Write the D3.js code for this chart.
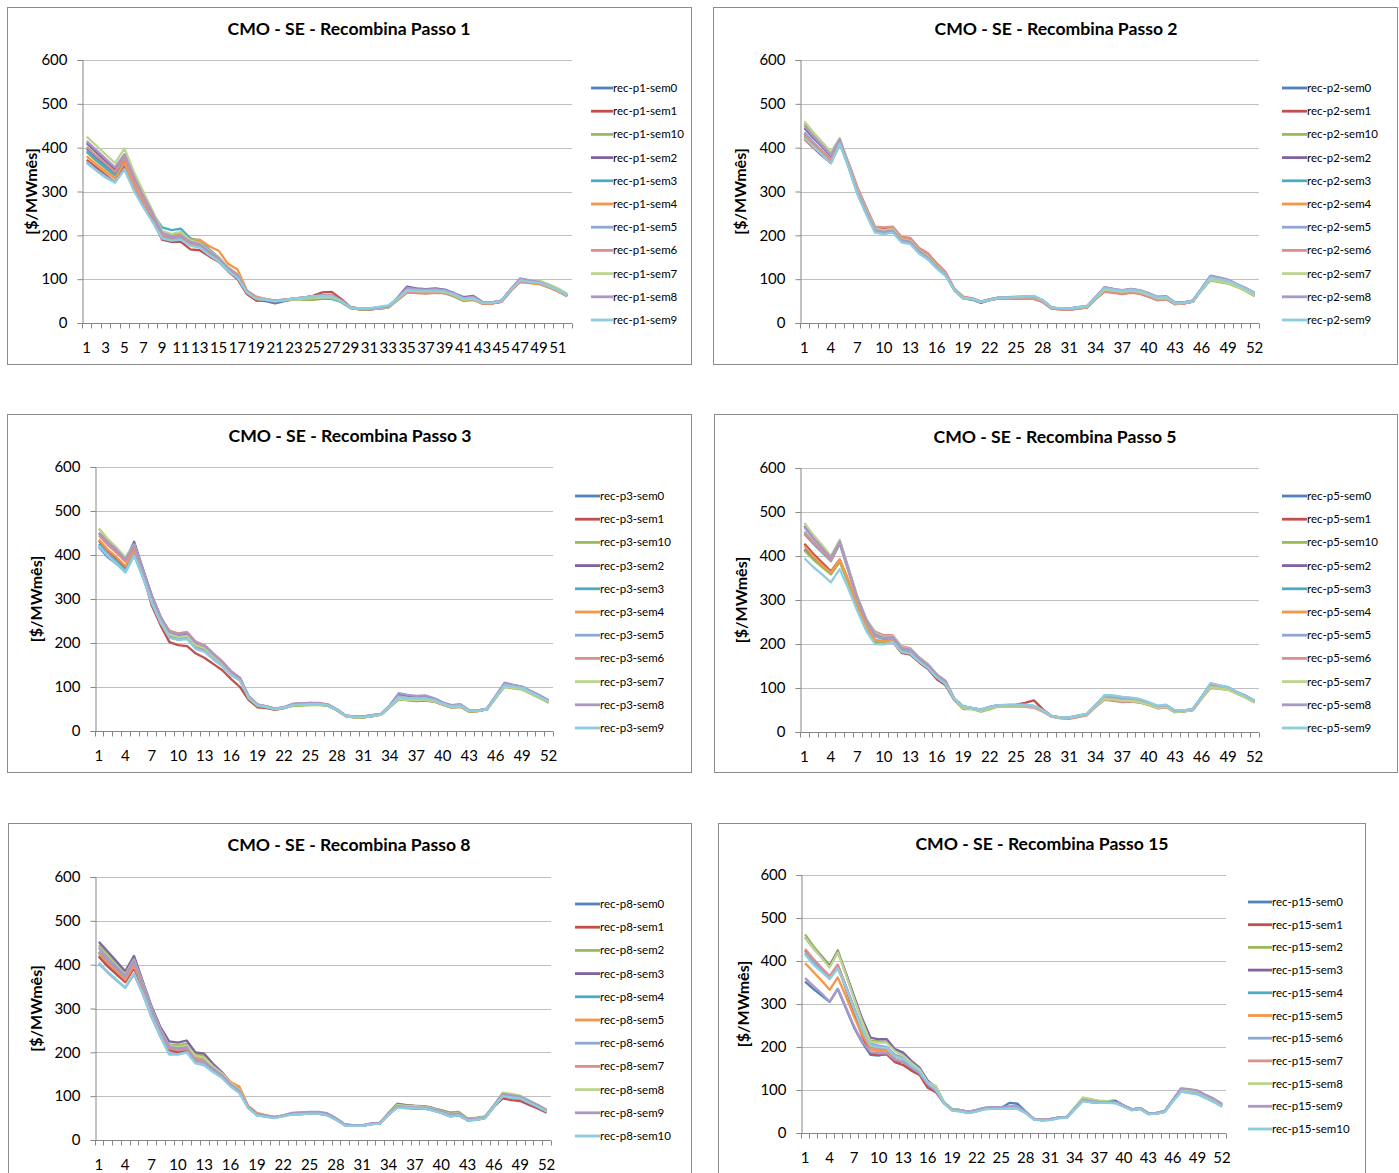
<!DOCTYPE html>
<html lang="pt">
<head>
<meta charset="utf-8">
<title>CMO - SE - Recombina</title>
<script src="https://cdn.jsdelivr.net/npm/d3@7"></script>
<style>
  body { margin: 0; background: #fff; }
  svg { font-family: Lato, "Open Sans", sans-serif; }
</style>
</head>
<body>
<script type="text/javascript">

// semanas 1..52 (eixo x)
var weeks = d3.range(1, 53);
var yTicks = [0, 100, 200, 300, 400, 500, 600];
var yLabel = "[$/MWmês]";

var titles = [
  "CMO - SE - Recombina Passo 1",
  "CMO - SE - Recombina Passo 2",
  "CMO - SE - Recombina Passo 3",
  "CMO - SE - Recombina Passo 5",
  "CMO - SE - Recombina Passo 8",
  "CMO - SE - Recombina Passo 15"
];

// series names, in legend order
var p1Names = ["rec-p1-sem0","rec-p1-sem1","rec-p1-sem10","rec-p1-sem2","rec-p1-sem3","rec-p1-sem4","rec-p1-sem5","rec-p1-sem6","rec-p1-sem7","rec-p1-sem8","rec-p1-sem9"];
var p2Names = ["rec-p2-sem0","rec-p2-sem1","rec-p2-sem10","rec-p2-sem2","rec-p2-sem3","rec-p2-sem4","rec-p2-sem5","rec-p2-sem6","rec-p2-sem7","rec-p2-sem8","rec-p2-sem9"];
var p3Names = ["rec-p3-sem0","rec-p3-sem1","rec-p3-sem10","rec-p3-sem2","rec-p3-sem3","rec-p3-sem4","rec-p3-sem5","rec-p3-sem6","rec-p3-sem7","rec-p3-sem8","rec-p3-sem9"];
var p5Names = ["rec-p5-sem0","rec-p5-sem1","rec-p5-sem10","rec-p5-sem2","rec-p5-sem3","rec-p5-sem4","rec-p5-sem5","rec-p5-sem6","rec-p5-sem7","rec-p5-sem8","rec-p5-sem9"];
var p8Names = ["rec-p8-sem0","rec-p8-sem1","rec-p8-sem2","rec-p8-sem3","rec-p8-sem4","rec-p8-sem5","rec-p8-sem6","rec-p8-sem7","rec-p8-sem8","rec-p8-sem9","rec-p8-sem10"];
var p15Names = ["rec-p15-sem0","rec-p15-sem1","rec-p15-sem2","rec-p15-sem3","rec-p15-sem4","rec-p15-sem5","rec-p15-sem6","rec-p15-sem7","rec-p15-sem8","rec-p15-sem9","rec-p15-sem10"];

// CMO values, one row per series (same order as names), 52 weeks each
var p1Values = [
  [398,378,360,342,375,322,282,243,200,193,196,180,176,158,144,122,106,68,52,50,45,50,54,57,59,60,58,48,34,31,31,33,36,55,74,72,71,72,70,64,54,56,45,45,49,74,96,93,91,83,74,62],
  [372,355,338,322,358,308,268,235,190,185,185,168,166,152,140,118,100,66,51,51,49,52,55,58,62,70,71,55,36,31,31,33,35,53,70,69,68,70,68,62,52,54,44,45,48,73,94,92,90,82,73,61],
  [390,370,352,336,370,318,280,245,208,202,205,190,185,166,149,125,109,70,55,53,50,52,54,53,53,55,55,48,34,31,31,33,35,52,70,70,70,71,68,60,50,52,45,46,50,75,97,95,94,86,76,64],
  [410,390,370,350,382,330,288,248,203,196,199,182,178,160,146,123,108,72,56,54,51,53,56,58,61,63,62,51,36,33,33,35,37,58,83,79,77,79,76,68,59,62,48,47,51,77,100,96,93,84,74,62],
  [392,372,355,338,372,320,285,250,218,212,215,193,188,168,150,126,110,71,56,54,50,52,55,56,56,56,55,49,35,32,32,35,38,56,76,74,73,74,72,65,55,57,46,47,50,76,98,95,93,85,76,64],
  [380,362,345,330,365,315,278,243,205,200,203,190,190,175,165,135,122,74,60,55,51,53,56,58,60,62,61,51,36,33,33,34,37,55,72,70,70,71,70,63,53,55,44,45,48,73,94,91,89,81,72,61],
  [368,350,335,322,352,305,266,232,195,190,192,178,174,157,142,120,104,70,55,53,49,52,55,57,59,61,60,50,35,32,32,35,38,56,76,74,73,74,73,66,55,57,46,46,50,76,98,95,92,84,75,63],
  [402,382,364,345,376,325,283,245,200,195,197,182,178,160,146,124,108,69,55,53,50,52,55,57,60,64,64,52,35,32,32,34,36,54,70,68,67,69,68,62,53,55,44,45,49,74,95,93,91,83,74,62],
  [425,405,385,365,398,345,300,255,210,203,208,188,183,165,150,128,112,72,58,55,51,52,54,55,57,58,58,50,35,32,32,34,36,55,74,73,72,73,71,64,53,55,46,47,51,77,100,98,97,89,79,67],
  [415,395,375,355,385,335,290,250,205,198,200,185,180,163,148,125,110,73,57,54,51,53,56,58,60,63,62,51,36,33,33,35,37,57,80,77,76,77,75,67,57,60,47,47,51,77,102,97,94,85,75,63],
  [365,348,332,320,350,302,265,230,193,188,190,176,172,155,141,119,103,70,55,53,50,52,56,58,61,62,61,50,35,33,34,37,40,56,75,74,73,74,72,65,55,57,46,46,50,75,97,94,92,84,75,63]
];

var p2Values = [
  [432,410,390,370,412,358,298,252,210,207,210,188,184,162,148,128,110,74,56,53,46,52,56,57,57,57,57,49,34,32,31,34,36,56,76,73,70,73,70,63,55,56,44,45,49,76,101,97,93,84,75,64],
  [420,400,382,365,408,365,308,262,218,215,217,195,193,170,158,135,115,76,58,55,48,53,56,57,56,55,55,48,33,31,30,33,35,55,72,70,67,70,67,60,52,54,43,45,49,76,100,97,93,84,76,65],
  [455,430,410,388,420,362,302,256,214,210,213,190,186,164,150,128,110,74,56,54,48,54,58,59,59,59,59,51,35,33,32,35,37,57,74,72,70,72,70,63,55,56,45,46,49,75,97,93,90,82,73,61],
  [445,422,402,380,418,360,300,254,212,208,211,188,184,162,148,127,109,76,58,56,49,54,58,59,59,59,59,51,35,33,33,36,38,59,81,77,74,77,74,67,59,60,46,47,51,79,107,103,98,88,79,68],
  [425,405,386,366,410,356,296,250,208,205,208,186,182,160,146,126,109,75,57,55,48,53,57,58,59,60,61,52,35,33,32,35,37,58,79,76,73,76,73,66,58,59,45,46,50,78,104,100,96,87,78,67],
  [428,408,390,370,414,362,305,260,216,212,215,193,190,168,156,133,114,78,60,56,48,53,56,57,57,56,55,48,34,32,31,34,36,56,72,70,67,70,68,62,53,55,43,45,49,77,102,99,95,86,77,66],
  [435,413,393,373,413,358,297,251,209,206,209,187,183,161,147,127,109,75,57,55,48,53,57,58,59,59,60,51,35,33,33,36,38,58,80,77,74,77,74,67,59,60,46,47,51,78,106,102,97,88,79,68],
  [430,410,392,372,415,366,310,264,220,218,220,197,194,171,159,136,116,77,59,55,48,52,56,56,56,55,55,48,33,31,30,33,35,55,71,69,66,69,67,60,52,54,43,45,49,76,101,98,94,85,76,65],
  [460,435,413,390,422,363,303,257,215,211,214,191,187,165,151,129,111,75,57,55,48,54,58,59,59,59,59,51,35,33,32,35,37,57,76,74,71,74,71,64,56,57,45,46,50,76,99,95,91,83,74,63],
  [450,426,405,383,419,360,300,254,212,208,211,189,185,163,149,127,110,76,58,56,49,54,58,59,60,60,60,52,35,33,33,36,38,59,82,78,75,78,75,68,60,61,47,47,51,79,108,104,99,89,80,69],
  [422,402,384,364,409,355,294,248,206,203,206,184,180,158,145,124,107,75,57,55,48,53,57,58,59,60,62,52,35,34,33,36,38,58,79,76,73,76,73,66,58,59,45,46,50,77,104,100,96,87,78,67]
];

var p3Values = [
  [418,395,380,362,400,350,290,245,212,208,210,188,182,165,148,128,115,76,58,55,50,53,58,60,60,60,57,47,34,31,31,34,37,55,75,72,71,71,68,61,55,57,45,46,50,77,103,100,97,87,77,66],
  [432,410,392,372,412,355,285,240,202,195,193,176,166,152,138,118,100,70,54,52,48,52,58,59,60,62,58,47,34,31,31,34,37,55,72,70,68,69,67,60,53,55,44,45,49,76,102,99,96,86,76,65],
  [460,435,415,392,425,365,305,258,220,215,218,196,190,172,155,133,118,74,57,54,49,52,57,58,59,59,57,47,34,31,31,34,37,55,72,70,69,70,67,60,53,55,44,45,49,75,100,97,94,84,75,64],
  [450,428,410,388,430,368,308,260,222,218,220,198,192,172,157,135,120,78,60,56,51,54,61,62,63,62,59,49,35,33,33,36,39,58,82,79,77,77,73,64,58,60,47,47,51,79,108,104,100,90,80,69],
  [425,402,386,366,405,352,295,250,215,210,213,190,184,166,150,130,118,77,59,55,50,53,60,61,62,61,58,48,35,32,32,35,38,57,78,75,74,74,70,62,56,58,46,46,50,78,105,101,98,88,78,67],
  [435,412,395,375,410,358,298,252,218,213,215,193,187,168,152,132,118,76,58,55,50,53,59,60,61,61,58,48,34,32,32,35,38,56,74,72,71,72,69,61,55,57,45,46,50,77,103,100,97,87,77,66],
  [422,400,383,364,402,350,293,248,214,209,211,188,182,164,148,128,115,77,59,55,50,53,60,61,62,62,58,48,35,32,32,35,38,57,79,76,75,75,71,63,57,59,46,46,50,78,106,102,99,89,79,68],
  [445,423,405,385,420,364,305,258,228,222,225,203,195,176,158,136,121,78,60,56,50,54,61,63,64,64,60,49,35,32,32,35,38,57,76,74,73,73,70,62,56,58,46,46,50,78,105,102,99,89,79,68],
  [460,437,417,395,424,364,304,257,220,214,216,195,189,170,154,132,117,75,58,55,50,53,59,60,61,60,58,48,34,31,31,34,37,56,73,71,70,71,68,61,54,56,45,46,50,76,101,98,95,85,76,65],
  [450,430,412,390,422,366,306,259,225,220,223,200,193,174,156,134,119,78,60,56,51,54,62,63,64,63,60,49,35,33,33,36,39,59,86,82,80,81,75,65,59,61,47,47,51,79,110,105,101,91,81,70],
  [420,398,380,360,398,348,291,246,212,207,209,186,180,162,147,127,114,76,58,55,50,53,59,60,61,61,58,48,35,32,32,35,38,57,77,75,74,74,70,62,56,58,46,46,50,77,104,101,98,88,78,67]
];

var p5Values = [
  [415,395,378,360,388,340,285,238,205,205,208,182,178,160,145,124,110,74,58,54,50,56,61,60,60,60,58,48,36,32,32,36,40,60,80,78,75,74,71,65,57,59,48,48,51,79,108,104,100,89,80,69],
  [428,405,385,365,392,342,285,238,208,203,205,180,176,158,143,120,106,72,56,53,50,56,60,61,62,66,72,52,36,32,31,35,39,58,74,72,70,70,68,62,55,57,46,47,50,77,103,100,97,88,79,68],
  [412,392,375,358,386,338,282,236,206,204,207,184,180,162,147,125,110,72,52,52,46,52,58,59,59,60,58,48,35,32,32,36,40,58,75,73,70,70,67,61,54,56,45,47,50,76,100,98,96,87,78,67],
  [468,442,420,395,435,370,305,255,220,213,215,190,186,168,152,130,115,75,58,54,51,57,61,61,61,61,59,49,36,33,33,37,41,61,82,80,77,76,73,66,58,60,48,49,52,79,108,104,101,90,81,70],
  [450,428,408,388,428,365,302,252,218,211,213,188,184,166,150,128,113,74,57,54,50,56,61,61,60,60,58,48,36,32,32,36,40,60,80,79,76,75,72,65,57,59,47,48,51,79,107,103,100,90,81,70],
  [422,400,380,362,392,345,290,242,210,206,208,184,180,162,147,126,111,73,57,53,50,56,60,60,60,60,58,48,36,32,32,36,40,59,76,75,72,72,69,63,55,57,46,48,51,78,104,102,100,91,83,71],
  [455,432,412,390,430,366,303,253,219,212,214,189,185,167,151,129,114,74,57,54,50,56,60,60,61,61,59,49,36,32,32,36,40,60,81,80,77,76,73,66,58,60,48,48,51,79,109,105,101,90,81,70],
  [452,430,410,390,430,368,306,256,228,220,220,195,190,170,154,131,116,73,56,53,50,55,59,58,58,57,55,46,35,31,30,34,38,58,73,71,68,69,67,62,54,56,45,47,50,76,102,100,97,88,79,68],
  [475,448,425,400,437,372,308,258,225,216,218,193,188,169,153,131,116,73,55,52,48,54,59,59,59,59,57,47,35,32,32,36,40,59,75,74,71,71,68,62,55,57,46,47,50,77,102,99,96,87,78,67],
  [465,440,418,396,433,370,305,255,222,214,216,191,187,168,152,130,115,75,58,54,51,57,61,61,61,61,59,49,36,33,33,37,41,61,83,82,79,77,74,67,59,61,48,49,52,80,110,106,102,91,82,71],
  [395,375,358,340,370,325,275,230,200,199,205,182,178,160,145,124,109,75,58,55,51,57,61,62,62,62,60,50,36,33,33,37,41,61,84,83,80,78,75,68,60,62,49,49,52,80,111,106,102,91,82,71]
];

var p8Values = [
  [420,398,380,362,395,345,290,245,208,205,208,185,180,163,148,126,112,74,57,54,51,55,59,59,60,60,57,47,34,32,32,36,38,59,76,74,72,72,68,63,55,57,45,47,51,77,100,97,94,84,75,64],
  [418,396,378,360,392,342,288,243,205,200,203,182,178,162,147,125,110,76,58,54,51,55,59,59,60,60,57,47,34,32,32,36,38,58,75,73,72,72,68,62,54,56,45,46,50,76,95,91,89,80,72,62],
  [445,422,402,382,417,360,302,256,218,216,220,196,192,170,153,131,116,75,58,55,52,55,60,61,62,63,59,49,35,33,33,37,39,62,83,80,78,77,73,68,63,64,49,51,54,79,104,101,98,88,79,68],
  [452,430,408,385,420,362,305,258,225,222,227,200,197,174,155,132,117,75,58,55,52,55,61,62,62,62,59,49,35,33,33,37,39,61,82,79,78,77,73,67,61,62,48,50,53,79,104,101,98,88,79,68],
  [430,408,390,370,405,352,296,250,212,208,212,188,184,165,150,128,113,75,58,55,52,55,60,60,61,61,58,48,35,33,33,37,38,60,78,76,75,74,70,65,58,60,47,48,52,78,102,99,96,86,77,66],
  [425,404,385,365,398,348,294,248,210,206,209,186,182,166,152,132,122,78,62,57,53,56,60,60,61,61,58,48,35,33,33,37,38,60,77,75,74,73,69,64,57,59,46,48,52,78,103,100,97,87,78,67],
  [402,382,364,347,378,333,280,236,197,196,200,176,172,156,143,123,108,74,57,54,51,55,59,60,61,61,58,48,35,33,33,37,38,59,76,74,73,72,68,63,56,58,46,47,51,77,101,98,95,85,76,65],
  [428,406,387,368,402,350,295,249,209,205,208,184,180,163,149,127,112,76,59,55,52,55,60,61,63,63,60,49,35,33,33,37,38,60,77,75,74,73,69,64,57,59,46,48,52,78,106,103,100,89,80,69],
  [440,418,398,378,412,357,300,253,215,212,216,192,188,168,152,130,115,75,58,55,52,56,61,62,62,62,59,49,35,33,33,37,39,61,80,78,77,76,72,66,60,61,48,50,54,79,108,105,101,90,80,69],
  [438,415,395,375,410,355,298,252,213,209,212,180,178,163,148,127,112,76,59,56,52,56,62,63,64,64,61,50,36,34,34,38,39,60,77,75,74,74,70,65,58,60,47,48,52,78,105,102,99,89,79,68],
  [405,384,366,348,380,335,282,238,195,195,200,175,170,155,142,122,107,73,56,53,50,54,58,59,60,60,56,46,33,32,32,36,37,58,74,73,72,72,67,62,54,56,45,46,50,76,100,97,95,85,76,65]
];

var p15Values = [
  [352,335,320,305,335,290,245,210,182,180,185,168,165,150,138,112,97,70,53,51,47,51,56,57,58,70,68,50,32,30,31,35,36,56,76,72,72,74,75,64,54,57,45,46,50,75,96,94,91,82,73,62],
  [425,400,380,360,388,335,280,225,185,182,183,165,158,145,135,105,95,69,53,51,47,51,56,57,57,58,57,47,32,30,31,35,36,56,75,72,70,70,70,62,53,56,44,45,49,75,99,97,94,84,75,63],
  [462,435,412,390,425,370,315,260,215,213,212,192,182,165,150,120,108,70,55,53,49,53,58,59,59,60,60,48,33,31,32,36,37,59,82,78,74,74,72,64,55,58,46,47,51,77,102,100,97,87,78,66],
  [455,430,410,388,422,372,318,265,222,218,218,195,187,168,152,122,106,70,55,53,49,53,58,59,59,60,59,48,33,31,32,36,37,58,80,77,73,73,72,63,55,58,46,47,51,77,101,99,96,86,77,65],
  [418,395,378,360,385,340,290,240,205,200,198,180,175,158,145,118,103,70,54,52,48,52,57,57,57,58,57,47,32,30,31,35,36,57,77,74,72,72,71,63,54,57,45,46,50,76,99,97,94,84,75,64],
  [395,375,355,333,362,318,270,228,195,190,192,172,165,152,140,115,100,70,54,52,48,52,57,58,58,60,60,48,32,30,31,35,36,56,76,73,71,71,71,62,54,57,45,46,50,76,100,98,95,85,76,64],
  [420,398,380,362,390,342,292,242,208,203,200,182,176,160,146,118,104,71,55,52,48,52,57,58,58,60,60,48,32,30,31,35,36,57,78,74,72,72,72,63,54,57,45,46,50,76,100,98,95,85,76,64],
  [428,405,385,365,392,340,288,238,200,195,196,178,172,157,144,117,102,71,55,53,49,53,58,59,59,61,62,49,33,31,31,35,36,57,78,75,72,72,72,63,55,57,45,46,50,77,103,101,98,88,79,67],
  [455,430,408,385,420,368,312,258,212,210,210,190,180,163,148,118,110,72,56,53,49,53,58,58,58,59,58,48,33,31,32,36,37,58,82,78,75,74,71,63,55,58,46,47,51,77,102,100,97,87,78,66],
  [360,342,325,305,335,292,248,212,188,185,186,170,166,152,139,113,98,70,55,53,49,54,59,60,60,62,62,49,33,31,32,36,37,57,77,74,72,72,72,63,55,58,46,47,51,77,104,102,99,89,80,68],
  [415,392,375,358,383,338,288,240,204,200,198,178,173,157,144,117,102,69,52,50,46,50,55,56,56,57,56,46,31,29,30,34,35,55,74,71,70,70,69,61,53,56,44,45,49,74,96,93,90,81,72,61]
];

// Excel 2007 default palette, by legend position
var colors = ["#4F81BD","#C0504D","#9BBB59","#8064A2","#4BACC6","#F79646",
              "#8EA8D6","#DB908E","#BCD58E","#AA98C6","#8ECDE0"];

var names = [p1Names, p2Names, p3Names, p5Names, p8Names, p15Names];
var values = [p1Values, p2Values, p3Values, p5Values, p8Values, p15Values];

// panel layout (box, plot area, legend), pixels
var panels = [
  {box:[7.5,7.5,684,357],   plot:{l:82, r:572, t:60, b:323},  tx:349,  ty:29,  yl:31,  lg:{x:591, tx:613, y:88,  dy:23.2}, every:2},
  {box:[713.5,7.5,684,357], plot:{l:800, r:1259, t:60, b:323}, tx:1056, ty:29,  yl:740, lg:{x:1282, tx:1307, y:88, dy:23.2}, every:3},
  {box:[7.5,414.5,684,358], plot:{l:94.5, r:553, t:467, b:731}, tx:350, ty:436, yl:36,  lg:{x:575, tx:600, y:496, dy:23.2}, every:3},
  {box:[714.5,414.5,683,358], plot:{l:800, r:1259, t:468, b:732}, tx:1055, ty:437, yl:741, lg:{x:1282, tx:1307, y:496, dy:23.2}, every:3},
  {box:[8.5,823.5,683,360], plot:{l:94.5, r:551, t:877, b:1140}, tx:349, ty:845, yl:36,  lg:{x:575, tx:600, y:904, dy:23.2}, every:3},
  {box:[718.5,823.5,647,360], plot:{l:801, r:1226, t:875, b:1133}, tx:1042, ty:844, yl:743, lg:{x:1248, tx:1272, y:902, dy:22.7}, every:3}
];

var svg = d3.select("body").append("svg")
    .attr("width", 1399)
    .attr("height", 1173);

panels.forEach(function(p, k) {
    var g = svg.append("g");

    // outer frame
    g.append("rect")
        .attr("x", p.box[0]).attr("y", p.box[1])
        .attr("width", p.box[2]).attr("height", p.box[3])
        .attr("fill", "#fff")
        .attr("stroke", "#8c8c8c");

    var x = d3.scaleBand().domain(weeks).range([p.plot.l, p.plot.r]).padding(0);
    var y = d3.scaleLinear().domain([0, 600]).range([p.plot.b, p.plot.t]);

    //gridlines
    g.selectAll(".grid").data(yTicks.slice(1)).enter()
        .append("line")
        .attr("x1", p.plot.l).attr("x2", p.plot.r)
        .attr("y1", function(d) { return Math.round(y(d)) + 0.5; })
        .attr("y2", function(d) { return Math.round(y(d)) + 0.5; })
        .attr("stroke", "#bfbfbf");

    // y axis
    var yAxis = g.append("g")
        .attr("transform", "translate(" + (Math.round(p.plot.l) + 0.5) + ",0)")
        .call(d3.axisLeft(y).tickValues(yTicks).tickSize(5).tickPadding(10));
    yAxis.select(".domain").attr("stroke", "#868686");
    yAxis.selectAll(".tick line").attr("stroke", "#868686");
    yAxis.selectAll("text")
        .attr("font-size", "15px").attr("fill", "#000")
        .attr("font-family", "Lato, sans-serif");

    // x axis: line + boundary ticks
    var yb = Math.round(p.plot.b) + 0.5;
    g.append("line")
        .attr("x1", p.plot.l).attr("x2", p.plot.r)
        .attr("y1", yb).attr("y2", yb)
        .attr("stroke", "#868686");
    var bounds = weeks.map(function(d) { return x(d); }).concat([p.plot.r]);
    g.selectAll(".xt").data(bounds).enter()
        .append("line")
        .attr("x1", function(d) { return Math.round(d) + 0.5; })
        .attr("x2", function(d) { return Math.round(d) + 0.5; })
        .attr("y1", yb).attr("y2", yb + 5)
        .attr("stroke", "#868686");

    g.selectAll(".xl")
        .data(weeks.filter(function(d, i) { return i % p.every === 0; }))
        .enter().append("text")
        .attr("x", function(d) { return x(d) + x.bandwidth() / 2; })
        .attr("y", p.plot.b + 30)
        .attr("text-anchor", "middle")
        .attr("font-size", "15px")
        .text(function(d) { return d; });

    // y label
    g.append("text")
        .attr("transform", "translate(" + p.yl + "," + ((p.plot.t + p.plot.b) / 2) + ") rotate(-90)")
        .attr("text-anchor", "middle")
        .attr("dy", "0.35em")
        .attr("font-size", "16px")
        .attr("font-weight", "bold")
        .text(yLabel);

    // title
    g.append("text")
        .attr("x", p.tx).attr("y", p.ty)
        .attr("text-anchor", "middle")
        .attr("dy", "0.35em")
        .attr("font-size", "17.6px")
        .attr("font-weight", "bold")
        .text(titles[k]);

    // lines
    var line = d3.line()
        .x(function(d, i) { return x(weeks[i]) + x.bandwidth() / 2; })
        .y(function(d) { return y(d); });

    g.selectAll(".series").data(values[k]).enter()
        .append("path")
        .attr("d", line)
        .attr("fill", "none")
        .attr("stroke", function(d, i) { return colors[i]; })
        .attr("stroke-width", 2.3)
        .attr("stroke-linejoin", "round");

    // legend
    var lg = g.selectAll(".lg").data(names[k]).enter()
        .append("g")
        .attr("transform", function(d, i) { return "translate(0," + (p.lg.y + i * p.lg.dy) + ")"; });
    lg.append("line")
        .attr("x1", p.lg.x).attr("x2", p.lg.tx)
        .attr("stroke", function(d, i) { return colors[i]; })
        .attr("stroke-width", 2.8);
    lg.append("text")
        .attr("x", p.lg.tx)
        .attr("dy", "0.35em")
        .attr("font-size", "11.5px")
        .text(function(d) { return d; });
});

</script>
</body>
</html>
